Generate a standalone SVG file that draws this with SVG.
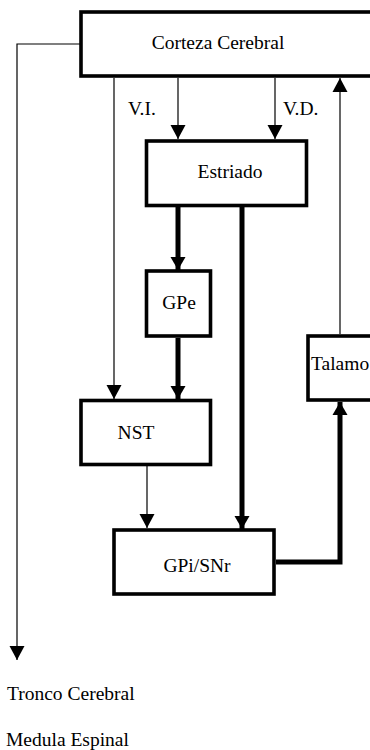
<svg xmlns="http://www.w3.org/2000/svg" width="370" height="750" viewBox="0 0 370 750">
<style>
.box{fill:#fff;stroke:#000;stroke-width:3.6}
.thin{fill:none;stroke:#000;stroke-width:1.2}
.thick{fill:none;stroke:#000;stroke-width:5}
.lbl{font-family:"Liberation Serif","DejaVu Serif",serif;font-size:19.5px;fill:#000}
.c{text-anchor:middle}
</style>
<defs>
<marker id="ah" markerUnits="userSpaceOnUse" markerWidth="16" markerHeight="16" refX="14" refY="7.5" orient="auto" overflow="visible">
<path d="M0,0 L14,7.5 L0,15 z" fill="#000"/>
</marker>
<marker id="ahk" markerUnits="userSpaceOnUse" markerWidth="16" markerHeight="16" refX="13" refY="7.5" orient="auto" overflow="visible">
<path d="M0,0 L13,7.5 L0,15 z" fill="#000"/>
</marker>
</defs>
<g id="connectors">
<path class="thin" d="M81,44 H17 V660" marker-end="url(#ah)"/>
<path class="thin" d="M114,78 V399" marker-end="url(#ah)"/>
<path class="thin" d="M178,78 V139" marker-end="url(#ah)"/>
<path class="thin" d="M275,78 V139" marker-end="url(#ah)"/>
<path class="thick" d="M178,207 V270" marker-end="url(#ahk)"/>
<path class="thick" d="M242,207 V529" marker-end="url(#ahk)"/>
<path class="thick" d="M178,338 V399" marker-end="url(#ahk)"/>
<path class="thin" d="M147,466 V528" marker-end="url(#ah)"/>
<path class="thick" d="M276,562 H340 V402" marker-end="url(#ahk)"/>
<path class="thin" d="M340,334 V78" marker-end="url(#ah)"/>
</g>
<g font-family="Liberation Serif, DejaVu Serif, serif" font-size="19.5">
<g id="corteza"><rect class="box" x="81" y="12" width="300" height="64"/><text class="lbl c" x="218" y="49">Corteza Cerebral</text></g>
<g id="vi"><text class="lbl" x="128" y="115">V.I.</text></g>
<g id="vd"><text class="lbl" x="283" y="115">V.D.</text></g>
<g id="estriado"><rect class="box" x="146.5" y="141" width="160" height="64.5"/><text class="lbl c" x="230" y="178">Estriado</text></g>
<g id="gpe"><rect class="box" x="146.5" y="271" width="64" height="65"/><text class="lbl c" x="179" y="309">GPe</text></g>
<g id="talamo"><rect class="box" x="308" y="336" width="80" height="64"/><text class="lbl" x="311" y="370">Talamo</text></g>
<g id="nst"><rect class="box" x="81" y="400.5" width="129.5" height="64"/><text class="lbl c" x="136" y="439">NST</text></g>
<g id="gpi"><rect class="box" x="114" y="530" width="160" height="64"/><text class="lbl c" x="197" y="572">GPi/SNr</text></g>
<g id="tronco"><text class="lbl" x="7" y="700">Tronco Cerebral</text></g>
<g id="medula"><text class="lbl" x="6" y="746">Medula Espinal</text></g>
</g>
</svg>
